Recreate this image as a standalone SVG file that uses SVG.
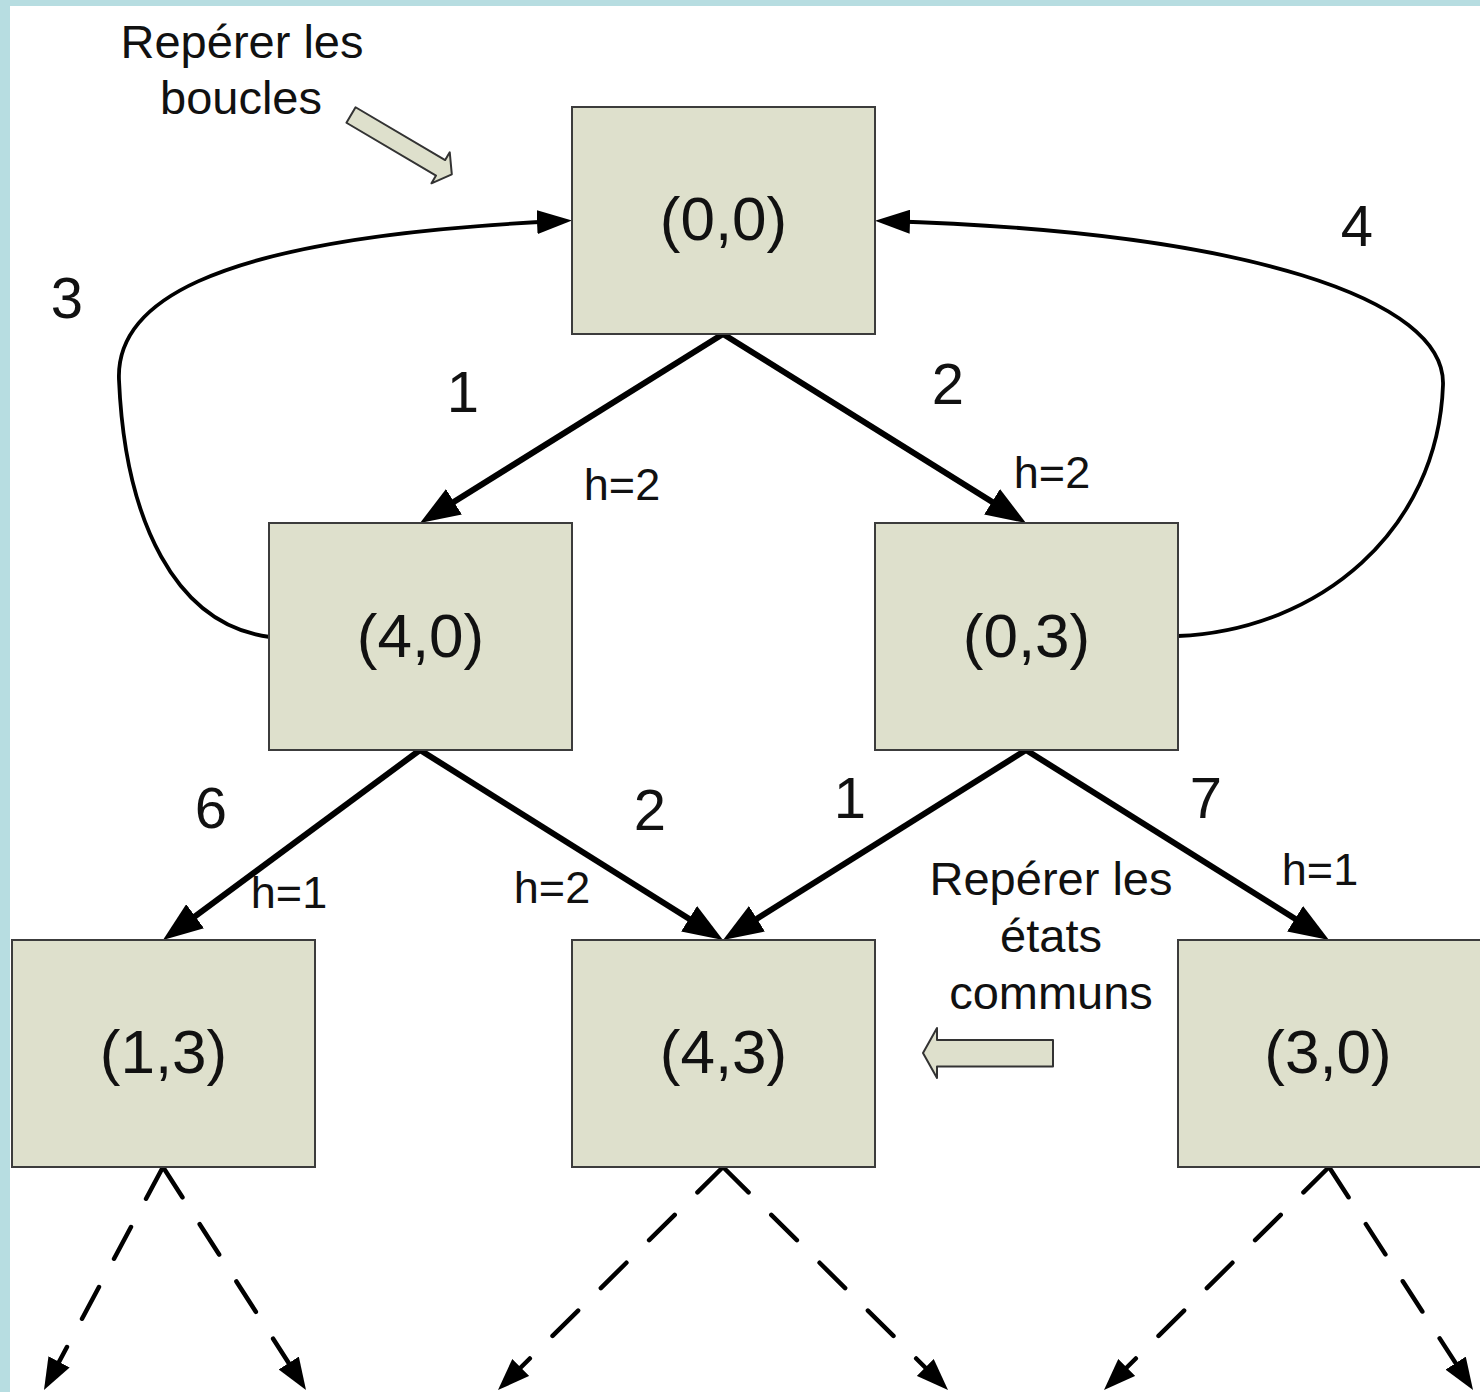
<svg xmlns="http://www.w3.org/2000/svg" width="1480" height="1392" viewBox="0 0 1480 1392">
  <style>
    .node rect { fill: #dee0cc; stroke: #3c3c3c; stroke-width: 2; }
    .node text { font-family: "Liberation Sans", Arial, sans-serif; font-size: 62px; fill: #111; text-anchor: middle; }
    .edge { fill: none; stroke: #000; stroke-width: 6; marker-end: url(#head); }
    .loop { fill: none; stroke: #000; stroke-width: 3.8; marker-end: url(#loopHead); }
    .dash { fill: none; stroke: #000; stroke-width: 4.5; stroke-linecap: round; stroke-dasharray: 36 32; marker-end: url(#dashHead); }
    .num { font-family: "Liberation Sans", Arial, sans-serif; font-size: 58px; fill: #111; text-anchor: middle; }
    .h { font-family: "Liberation Sans", Arial, sans-serif; font-size: 45px; fill: #111; text-anchor: middle; }
    .note { font-family: "Liberation Sans", Arial, sans-serif; font-size: 47px; fill: #111; text-anchor: middle; }
    .block { fill: #dee0cc; stroke: #333; stroke-width: 2; stroke-linejoin: round; }
  </style>
  <defs>
    <marker id="head" viewBox="0 0 40 30" refX="30" refY="15" markerWidth="40" markerHeight="30" markerUnits="userSpaceOnUse" orient="auto">
      <path d="M0,0 L40,15 L0,30 z" fill="#000"/>
    </marker>
    <marker id="loopHead" viewBox="0 0 35 24" refX="25" refY="12" markerWidth="35" markerHeight="24" markerUnits="userSpaceOnUse" orient="auto">
      <path d="M0,0 L35,12 L0,24 z" fill="#000"/>
    </marker>
    <marker id="dashHead" viewBox="0 0 32 24" refX="22" refY="12" markerWidth="32" markerHeight="24" markerUnits="userSpaceOnUse" orient="auto">
      <path d="M0,0 L32,12 L0,24 z" fill="#000"/>
    </marker>
  </defs>

  <!-- page frame -->
  <rect x="0" y="0" width="1480" height="1392" fill="#ffffff"/>
  <rect x="0" y="0" width="1480" height="6" fill="#b7dde1"/>
  <rect x="0" y="0" width="10" height="1392" fill="#b7dde1"/>

  <!-- connectors -->
  <g id="connectors">
    <path class="edge" d="M723,334 L428.5,517.7"/>
    <path class="edge" d="M723,334 L1017.5,517.7"/>
    <path class="edge" d="M420,750 L171,934.1"/>
    <path class="edge" d="M420,750 L714.5,934.7"/>
    <path class="edge" d="M1026,750 L731.5,934.7"/>
    <path class="edge" d="M1026,750 L1320.5,934.7"/>

    <path class="loop" d="M270,637 C175,625 125,520 119,380 C116,312 185,238 562,221"/>
    <path class="loop" d="M1178,636 C1320,630 1438,530 1443,385 C1446,300 1250,232 885,221"/>

    <path class="dash" d="M163,1167 L48.7,1381.2"/>
    <path class="dash" d="M163,1167 L300.6,1381.6"/>
    <path class="dash" d="M723,1167 L505.1,1383"/>
    <path class="dash" d="M723,1167 L940.9,1383"/>
    <path class="dash" d="M1329,1167 L1111.1,1383"/>
    <path class="dash" d="M1329,1167 L1467.6,1381.6"/>
  </g>

  <!-- edge weights -->
  <g id="weights">
    <text class="num" x="463" y="412">1</text>
    <text class="num" x="948" y="404">2</text>
    <text class="num" x="67" y="318">3</text>
    <text class="num" x="1357" y="246">4</text>
    <text class="num" x="211" y="828">6</text>
    <text class="num" x="650" y="830">2</text>
    <text class="num" x="850" y="818">1</text>
    <text class="num" x="1206" y="818">7</text>
  </g>

  <!-- heuristic values -->
  <g id="heuristics">
    <text class="h" x="622" y="500">h=2</text>
    <text class="h" x="1052" y="488">h=2</text>
    <text class="h" x="289" y="908">h=1</text>
    <text class="h" x="552" y="903">h=2</text>
    <text class="h" x="1320" y="885">h=1</text>
  </g>

  <!-- states -->
  <g id="n00" class="node">
    <rect x="572" y="107" width="303" height="227"/>
    <text x="723.5" y="240">(0,0)</text>
  </g>
  <g id="n40" class="node">
    <rect x="269" y="523" width="303" height="227"/>
    <text x="420.5" y="657">(4,0)</text>
  </g>
  <g id="n03" class="node">
    <rect x="875" y="523" width="303" height="227"/>
    <text x="1026.5" y="657">(0,3)</text>
  </g>
  <g id="n13" class="node">
    <rect x="12" y="940" width="303" height="227"/>
    <text x="163.5" y="1073">(1,3)</text>
  </g>
  <g id="n43" class="node">
    <rect x="572" y="940" width="303" height="227"/>
    <text x="723.5" y="1073">(4,3)</text>
  </g>
  <g id="n30" class="node">
    <rect x="1178" y="940" width="303" height="227"/>
    <text x="1328" y="1073">(3,0)</text>
  </g>

  <!-- note: loops -->
  <g id="note-loops">
    <text class="note" x="242" y="58">Repérer les</text>
    <text class="note" x="241" y="114">boucles</text>
    <polygon class="block" transform="translate(351,115) rotate(30.5)" points="0,-9 104,-9 104,-18 117,0 104,18 104,9 0,9"/>
  </g>

  <!-- note: shared states -->
  <g id="note-shared">
    <text class="note" x="1051" y="895">Repérer les</text>
    <text class="note" x="1051" y="952">états</text>
    <text class="note" x="1051" y="1009">communs</text>
    <polygon class="block" points="1053,1040 937,1040 937,1028 923,1053 937,1078 937,1066.5 1053,1066.5"/>
  </g>
</svg>
